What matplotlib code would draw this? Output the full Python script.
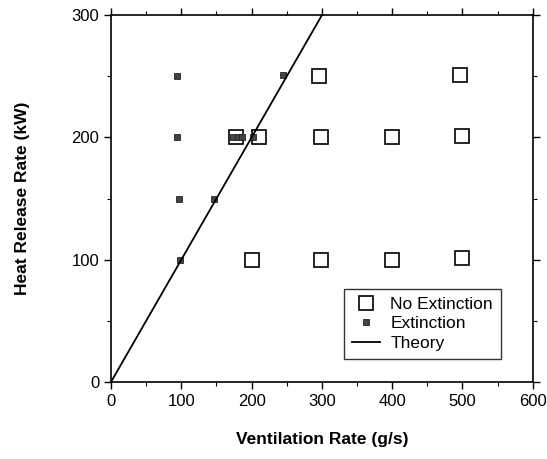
import matplotlib
matplotlib.use('Agg')
import matplotlib.pyplot as plt
from matplotlib.ticker import MultipleLocator

plt.rcParams['font.family'] = ['Liberation Sans', 'DejaVu Sans']

# No extinction (open squares)
no_ext_x = [178, 210, 298, 400, 500, 296, 497, 200, 298, 400, 500]
no_ext_y = [200, 200, 200, 200, 201, 250, 251, 100, 100, 100, 101]

# Extinction (small filled squares)
ext_x = [94, 94, 96, 98, 146, 244, 173, 180, 186, 202]
ext_y = [250, 200, 150, 100, 150, 251, 200, 200, 200, 200]

# Theory line
theory_x = [0, 300]
theory_y = [0, 300]

fig = plt.figure(figsize=(5.47, 4.59), dpi=100)
ax = fig.add_axes([0.203, 0.168, 0.771, 0.799])

ax.plot(no_ext_x, no_ext_y, linestyle='none', marker='s', markersize=10,
        markerfacecolor='white', markeredgecolor='black', markeredgewidth=1.2,
        label='No Extinction', zorder=2)
ax.plot(ext_x, ext_y, linestyle='none', marker='s', markersize=5,
        markerfacecolor='#444444', markeredgecolor='#222222', markeredgewidth=0.6,
        label='Extinction', zorder=3)
ax.plot(theory_x, theory_y, color='black', linewidth=1.3, label='Theory', zorder=4)

ax.set_xlim(0, 600)
ax.set_ylim(0, 300)
ax.xaxis.set_major_locator(MultipleLocator(100))
ax.xaxis.set_minor_locator(MultipleLocator(50))
ax.yaxis.set_major_locator(MultipleLocator(100))
ax.yaxis.set_minor_locator(MultipleLocator(50))
ax.tick_params(which='both', direction='out', top=True, right=True,
               labeltop=False, labelright=False)
ax.tick_params(which='major', length=5, width=1, labelsize=12)
ax.tick_params(which='minor', length=3, width=0.8)
for s in ax.spines.values():
    s.set_linewidth(1.2)

ax.set_xlabel('Ventilation Rate (g/s)', fontsize=12.5, fontweight='bold', labelpad=17)
ax.set_ylabel('Heat Release Rate (kW)', fontsize=12.5, fontweight='bold', labelpad=30)

leg = ax.legend(loc='lower right', bbox_to_anchor=(0.945, 0.04), fontsize=12.5,
                frameon=True, fancybox=False, edgecolor='black',
                handlelength=1.6, handletextpad=0.6, borderpad=0.45,
                labelspacing=0.25)
leg.get_frame().set_linewidth(1.0)

fig.savefig('out.png', dpi=100)
